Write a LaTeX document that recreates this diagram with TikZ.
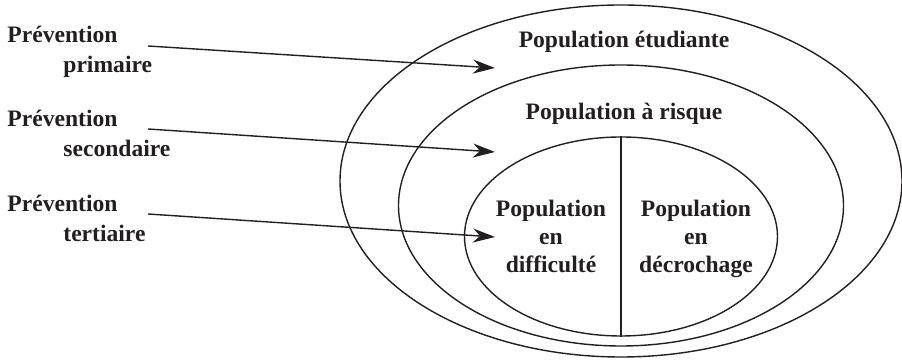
\documentclass[tikz,border=0pt]{standalone}
\usepackage{fontspec}
\setmainfont{Liberation Serif}
\usetikzlibrary{arrows.meta,shapes.geometric}
\definecolor{ink}{HTML}{231F20}
\begin{document}
\begin{tikzpicture}[x=0.5pt,y=-0.5pt,
  txt/.style={font=\fontsize{11.8pt}{14pt}\selectfont\bfseries, text=ink, inner sep=0pt, anchor=base},
  lbl/.style={txt, anchor=base west},
  ring/.style={draw=ink, ellipse, inner sep=0pt, line width=0.7pt},
  arr/.style={draw=ink, -{Stealth[length=11pt,width=7pt,inset=3.5pt]}, line width=0.7pt},
  divider/.style={draw=ink, line width=1.4pt}]
\useasboundingbox (0,0) rectangle (902,362);
% ellipses
\node[ring, minimum width=281pt, minimum height=176pt] (outer) at (621,181) {};
\node[ring, minimum width=222.5pt, minimum height=140.5pt] (middle) at (621,205.5) {};
\node[ring, minimum width=156.5pt, minimum height=99.5pt] (inner) at (621,236.5) {};
\draw[divider] (inner.north) -- (inner.south);
% population texts
\node[txt] (etud) at (624,48) {Population étudiante};
\node[txt] (risq) at (624,120) {Population à risque};
\node[txt] (d1) at (551,217) {Population};
\node[txt] (d2) at (551,245) {en};
\node[txt] (d3) at (551,273) {difficulté};
\node[txt] (r1) at (696,217) {Population};
\node[txt] (r2) at (696,245) {en};
\node[txt] (r3) at (696,273) {décrochage};
% prevention labels
\node[lbl] (pa1) at (7,43) {Prévention};
\node[lbl] (pa2) at (63,73) {primaire};
\node[lbl] (pb1) at (7,127) {Prévention};
\node[lbl] (pb2) at (63,157) {secondaire};
\node[lbl] (pc1) at (7,212) {Prévention};
\node[lbl] (pc2) at (63,242) {tertiaire};
% arrows
\coordinate (s1) at (148,46);
\coordinate (t1) at (495,68);
\coordinate (s2) at (148,129);
\coordinate (t2) at (495,152);
\coordinate (s3) at (148,214);
\coordinate (t3) at (495,237);
\draw[arr] (s1) -- (t1);
\draw[arr] (s2) -- (t2);
\draw[arr] (s3) -- (t3);
\end{tikzpicture}
\end{document}
